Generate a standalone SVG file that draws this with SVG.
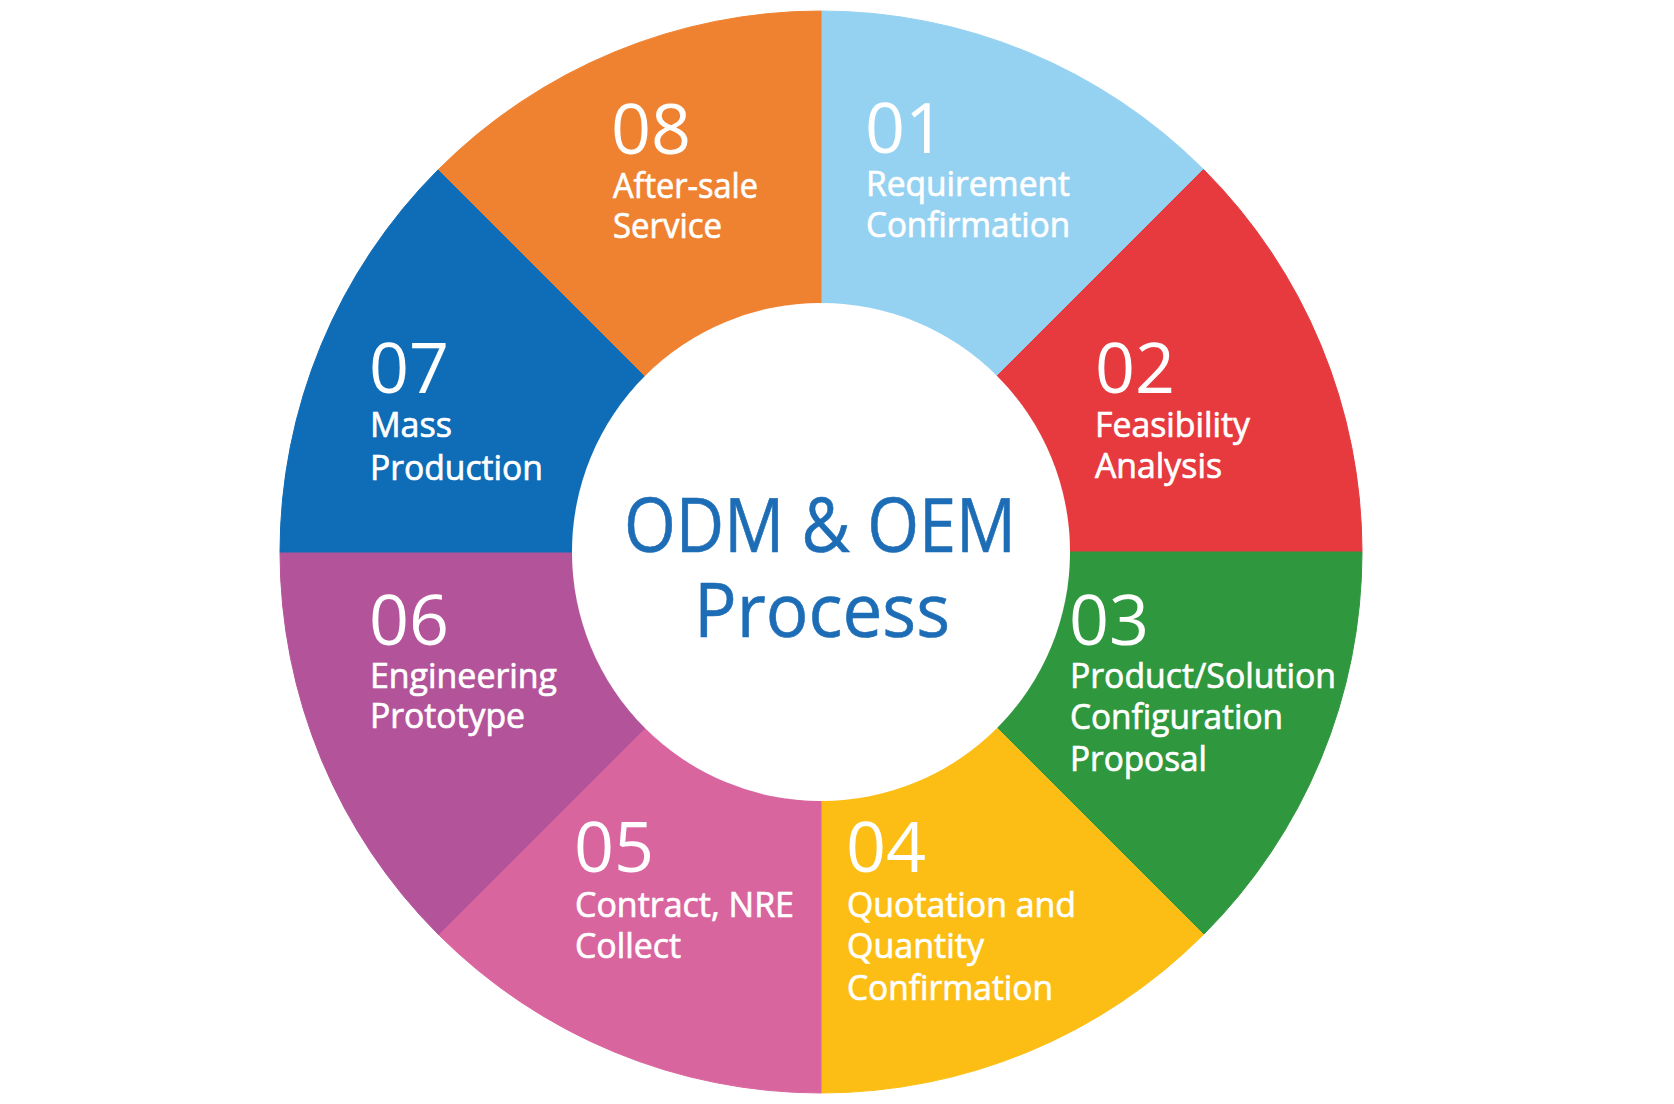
<svg xmlns="http://www.w3.org/2000/svg" width="1674" height="1104" viewBox="0 0 1674 1104">
<style>
.seg{stroke-width:1}
.num{font-family:"Open Sans","Noto Sans",sans-serif;font-size:70px;fill:#fff}
.lbl{font-family:"Open Sans","Noto Sans",sans-serif;font-size:35px;fill:#fff;stroke:#fff;stroke-width:0.7}
.title{font-family:"Open Sans","Noto Sans",sans-serif;font-size:75px;fill:#1D6DB6;stroke:#1D6DB6;stroke-width:0.6;text-anchor:middle}
</style>
<rect width="1674" height="1104" fill="#fff"/>
<g id="connectors"/>
<g id="step-01">
<path class="seg" fill="#95D2F2" stroke="#95D2F2" d="M821 11 A541 541 0 0 1 1203.55 169.45 L997.07 375.93 A249 249 0 0 0 821 303 Z"/>
<text class="num" x="865" y="153">01</text>
<text class="lbl" x="866" y="196" textLength="204" lengthAdjust="spacingAndGlyphs">Requirement</text>
<text class="lbl" x="866" y="237" textLength="204" lengthAdjust="spacingAndGlyphs">Confirmation</text>
</g>
<g id="step-02">
<path class="seg" fill="#E63A3F" stroke="#E63A3F" d="M1203.55 169.45 A541 541 0 0 1 1362 552 L1070 552 A249 249 0 0 0 997.07 375.93 Z"/>
<text class="num" x="1095" y="393">02</text>
<text class="lbl" x="1095" y="437" textLength="155" lengthAdjust="spacingAndGlyphs">Feasibility</text>
<text class="lbl" x="1095" y="478" textLength="127" lengthAdjust="spacingAndGlyphs">Analysis</text>
</g>
<g id="step-03">
<path class="seg" fill="#2F973E" stroke="#2F973E" d="M1362 552 A541 541 0 0 1 1203.55 934.55 L997.07 728.07 A249 249 0 0 0 1070 552 Z"/>
<text class="num" x="1069" y="645">03</text>
<text class="lbl" x="1070" y="688" textLength="266" lengthAdjust="spacingAndGlyphs">Product/Solution</text>
<text class="lbl" x="1070" y="729" textLength="213" lengthAdjust="spacingAndGlyphs">Configuration</text>
<text class="lbl" x="1070" y="771" textLength="137" lengthAdjust="spacingAndGlyphs">Proposal</text>
</g>
<g id="step-04">
<path class="seg" fill="#FCBE14" stroke="#FCBE14" d="M1203.55 934.55 A541 541 0 0 1 821 1093 L821 801 A249 249 0 0 0 997.07 728.07 Z"/>
<text class="num" x="846" y="872">04</text>
<text class="lbl" x="847" y="917" textLength="229" lengthAdjust="spacingAndGlyphs">Quotation and</text>
<text class="lbl" x="847" y="958" textLength="137" lengthAdjust="spacingAndGlyphs">Quantity</text>
<text class="lbl" x="847" y="1000" textLength="206" lengthAdjust="spacingAndGlyphs">Confirmation</text>
</g>
<g id="step-05">
<path class="seg" fill="#D9659F" stroke="#D9659F" d="M821 1093 A541 541 0 0 1 438.45 934.55 L644.93 728.07 A249 249 0 0 0 821 801 Z"/>
<text class="num" x="574" y="872">05</text>
<text class="lbl" x="575" y="917" textLength="219" lengthAdjust="spacingAndGlyphs">Contract, NRE</text>
<text class="lbl" x="575" y="958" textLength="106" lengthAdjust="spacingAndGlyphs">Collect</text>
</g>
<g id="step-06">
<path class="seg" fill="#B3549A" stroke="#B3549A" d="M438.45 934.55 A541 541 0 0 1 280 552 L572 552 A249 249 0 0 0 644.93 728.07 Z"/>
<text class="num" x="369" y="645">06</text>
<text class="lbl" x="370" y="688" textLength="187" lengthAdjust="spacingAndGlyphs">Engineering</text>
<text class="lbl" x="370" y="728" textLength="155" lengthAdjust="spacingAndGlyphs">Prototype</text>
</g>
<g id="step-07">
<path class="seg" fill="#0F6CB6" stroke="#0F6CB6" d="M280 552 A541 541 0 0 1 438.45 169.45 L644.93 375.93 A249 249 0 0 0 572 552 Z"/>
<text class="num" x="369" y="393">07</text>
<text class="lbl" x="370" y="437" textLength="82" lengthAdjust="spacingAndGlyphs">Mass</text>
<text class="lbl" x="370" y="480" textLength="173" lengthAdjust="spacingAndGlyphs">Production</text>
</g>
<g id="step-08">
<path class="seg" fill="#EF8231" stroke="#EF8231" d="M438.45 169.45 A541 541 0 0 1 821 11 L821 303 A249 249 0 0 0 644.93 375.93 Z"/>
<text class="num" x="611" y="154">08</text>
<text class="lbl" x="613" y="198" textLength="145" lengthAdjust="spacingAndGlyphs">After-sale</text>
<text class="lbl" x="613" y="238" textLength="109" lengthAdjust="spacingAndGlyphs">Service</text>
</g>
<g id="center">
<circle cx="821" cy="552" r="249" fill="#fff"/>
<text class="title" x="820" y="552" textLength="392" lengthAdjust="spacingAndGlyphs">ODM &amp; OEM</text>
<text class="title" x="822" y="637" textLength="256" lengthAdjust="spacingAndGlyphs">Process</text>
</g>
</svg>
